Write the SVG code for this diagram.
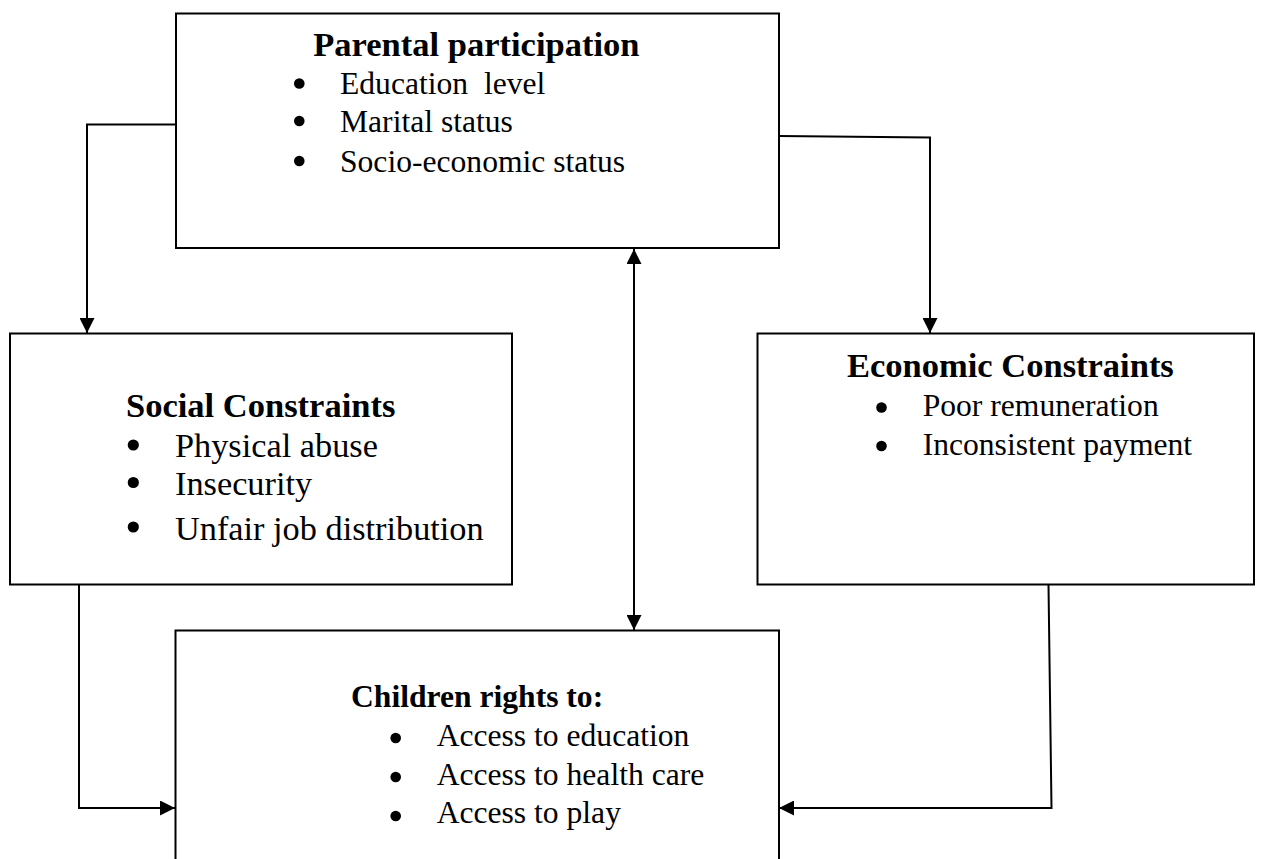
<svg xmlns="http://www.w3.org/2000/svg" width="1265" height="859" viewBox="0 0 1265 859">
<style>
.box{fill:#fff;stroke:#000;stroke-width:2}
.conn{fill:none;stroke:#000;stroke-width:2}
.title{font-family:"Liberation Serif","Times New Roman",serif;font-weight:bold;font-size:34.5px;fill:#000}
.body{font-family:"Liberation Serif","Times New Roman",serif;font-size:31.6px;fill:#000}
.bodyL{font-family:"Liberation Serif","Times New Roman",serif;font-size:34.3px;fill:#000}
.bul{fill:#000}
</style>
<defs>
<marker id="arr" markerUnits="userSpaceOnUse" markerWidth="15" markerHeight="15" refX="15" refY="7.5" orient="auto-start-reverse" viewBox="0 0 15 15">
<path d="M0,0 L15,7.5 L0,15 z" fill="#000"/>
</marker>
</defs>
<rect width="1265" height="859" fill="#fff"/>

<g id="connectors">
<path class="conn" d="M176,124.5 H87 V333" marker-end="url(#arr)"/>
<path class="conn" d="M779,136 L930,137.5 V333" marker-end="url(#arr)"/>
<path class="conn" d="M634,249 V630" marker-start="url(#arr)" marker-end="url(#arr)"/>
<path class="conn" d="M79,585 V808 H175" marker-end="url(#arr)"/>
<path class="conn" d="M1048.5,585 L1051.5,808 H779" marker-end="url(#arr)"/>
</g>

<g id="parental">
<rect class="box" x="176" y="13.5" width="603" height="234.5"/>
<text class="title" x="313.3" y="56">Parental participation</text>
<circle class="bul" cx="299.3" cy="83.5" r="5.3"/>
<circle class="bul" cx="299.3" cy="121" r="5.3"/>
<circle class="bul" cx="299.3" cy="161" r="5.3"/>
<text class="body" x="340" y="94" xml:space="preserve">Education  level</text>
<text class="body" x="340" y="132">Marital status</text>
<text class="body" x="340" y="171.7">Socio-economic status</text>
</g>

<g id="social">
<rect class="box" x="10" y="333.5" width="502" height="251"/>
<text class="title" x="126" y="416.7">Social Constraints</text>
<circle class="bul" cx="133.3" cy="445" r="5.6"/>
<circle class="bul" cx="133.3" cy="482.5" r="5.6"/>
<circle class="bul" cx="133.3" cy="527" r="5.6"/>
<text class="bodyL" x="175" y="457.3">Physical abuse</text>
<text class="bodyL" x="175" y="495">Insecurity</text>
<text class="bodyL" x="175" y="540">Unfair job distribution</text>
</g>

<g id="economic">
<rect class="box" x="757.5" y="333.5" width="496.5" height="251"/>
<text class="title" x="847" y="376.7">Economic Constraints</text>
<circle class="bul" cx="881.5" cy="407.5" r="5.3"/>
<circle class="bul" cx="881.5" cy="446" r="5.3"/>
<text class="body" x="922.7" y="415.7">Poor remuneration</text>
<text class="body" x="922.7" y="455">Inconsistent payment</text>
</g>

<g id="children">
<rect class="box" x="175.5" y="630.5" width="603.5" height="250"/>
<text class="title" x="351" y="707" style="font-size:31.6px">Children rights to:</text>
<circle class="bul" cx="395.7" cy="738" r="5.3"/>
<circle class="bul" cx="395.7" cy="777" r="5.3"/>
<circle class="bul" cx="395.7" cy="816" r="5.3"/>
<text class="body" x="436.7" y="745.7">Access to education</text>
<text class="body" x="436.7" y="785">Access to health care</text>
<text class="body" x="436.7" y="823.3">Access to play</text>
</g>
</svg>
